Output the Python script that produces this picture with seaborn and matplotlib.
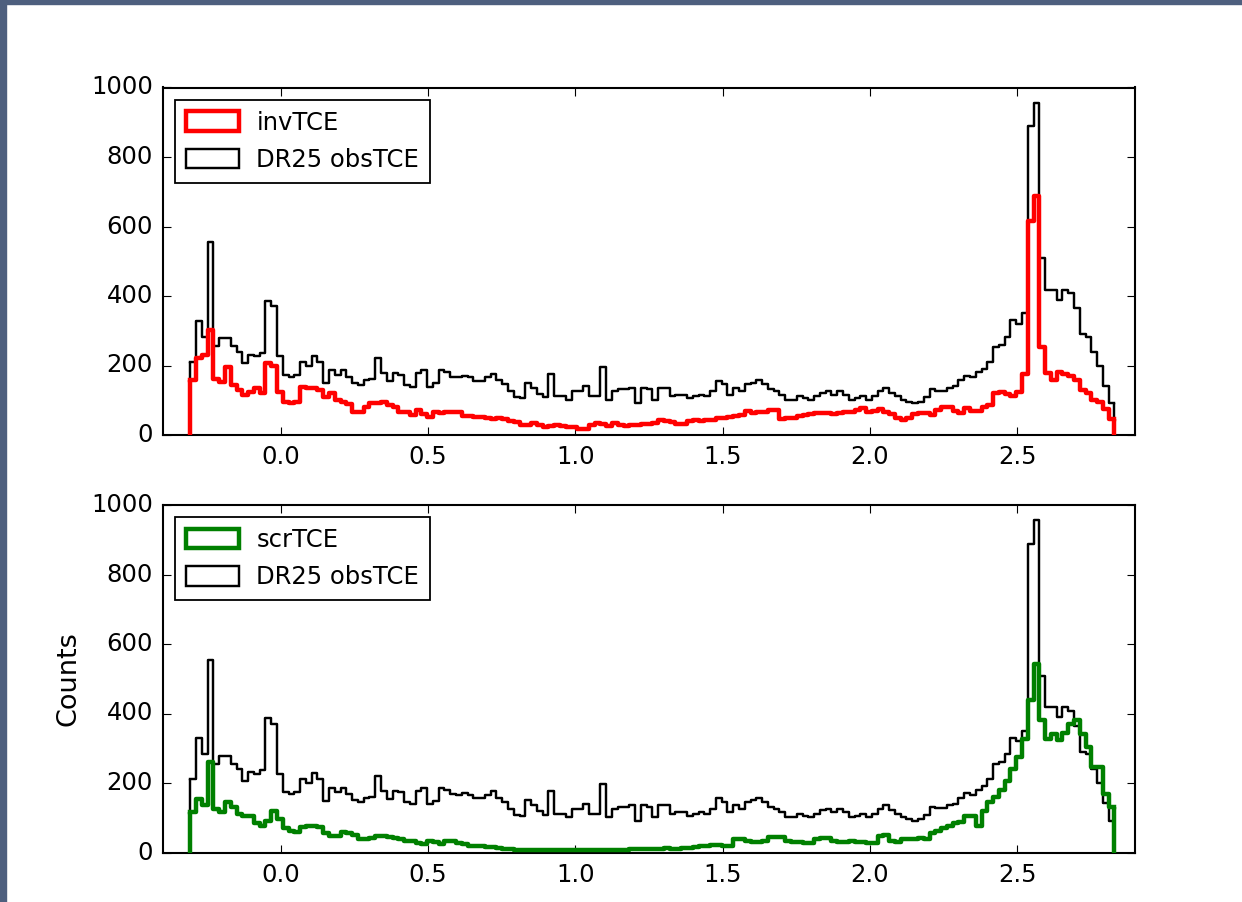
import numpy as np
import pandas as pd
import matplotlib
matplotlib.use("Agg")
import matplotlib.pyplot as plt
import seaborn as sns
from matplotlib.patches import Patch, Rectangle

# ---------------- data ----------------
log_period_min = -0.306
log_period_max = 2.830
n_bins = 160

obs_counts = [
    211, 329, 283, 554, 255, 279, 279, 255, 240, 206,
    231, 226, 236, 386, 370, 226, 173, 168, 173, 211,
    200, 228, 211, 149, 187, 173, 187, 168, 150, 145,
    158, 160, 221, 178, 154, 178, 173, 145, 139, 178,
    187, 139, 149, 187, 180, 168, 166, 171, 166, 156,
    156, 166, 176, 158, 146, 126, 108, 106, 151, 136,
    118, 108, 176, 111, 111, 101, 126, 126, 141, 111,
    111, 196, 101, 126, 131, 131, 136, 91, 136, 131,
    101, 136, 136, 111, 116, 116, 106, 111, 116, 111,
    126, 156, 146, 116, 136, 126, 146, 151, 158, 146,
    131, 126, 116, 101, 101, 111, 106, 101, 111, 121,
    126, 116, 126, 116, 101, 106, 111, 101, 111, 126,
    136, 121, 111, 101, 96, 91, 96, 108, 131, 128,
    128, 136, 141, 158, 171, 166, 181, 191, 211, 254,
    259, 283, 330, 320, 350, 888, 956, 509, 418, 418,
    389, 418, 408, 365, 290, 283, 240, 200, 142, 91,
]

inv_counts = [
    158, 221, 230, 303, 160, 153, 196, 145, 130, 115,
    125, 135, 120, 206, 198, 125, 96, 91, 95, 139,
    134, 134, 130, 110, 120, 101, 96, 90, 67, 67,
    82, 91, 91, 96, 85, 82, 67, 65, 58, 72,
    60, 53, 67, 62, 65, 67, 67, 55, 55, 53,
    52, 48, 46, 48, 46, 40, 38, 29, 30, 34,
    30, 24, 26, 29, 27, 24, 22, 16, 16, 29,
    34, 32, 27, 34, 30, 25, 28, 30, 32, 33,
    35, 43, 40, 38, 32, 33, 40, 43, 40, 42,
    43, 48, 48, 53, 55, 58, 70, 63, 65, 67,
    72, 72, 45, 48, 48, 55, 58, 60, 63, 63,
    62, 61, 62, 65, 65, 72, 77, 67, 70, 74,
    65, 60, 50, 43, 50, 60, 63, 63, 58, 72,
    82, 80, 70, 63, 77, 70, 68, 82, 86, 120,
    125, 118, 111, 125, 175, 615, 687, 254, 177, 158,
    182, 175, 170, 158, 129, 120, 100, 95, 75, 45,
]

scr_counts = [
    116, 155, 136, 260, 125, 116, 145, 130, 111, 106,
    106, 85, 77, 91, 120, 95, 70, 63, 58, 72,
    77, 75, 72, 55, 48, 48, 58, 55, 50, 39,
    39, 43, 48, 48, 46, 43, 40, 34, 34, 26,
    24, 34, 30, 24, 34, 32, 27, 25, 20, 18,
    18, 17, 16, 12, 10, 9, 8, 8, 8, 7,
    8, 7, 6, 7, 8, 7, 7, 6, 7, 6,
    6, 7, 7, 6, 7, 8, 9, 10, 10, 11,
    10, 11, 12, 10, 11, 12, 14, 16, 18, 20,
    23, 22, 18, 18, 38, 40, 32, 30, 31, 33,
    44, 45, 45, 32, 30, 30, 27, 26, 40, 43,
    42, 32, 30, 31, 32, 30, 31, 28, 28, 48,
    50, 32, 30, 38, 40, 40, 42, 40, 55, 61,
    70, 75, 85, 88, 105, 106, 75, 120, 145, 160,
    180, 205, 240, 275, 327, 438, 543, 380, 327, 340,
    323, 345, 370, 380, 341, 303, 245, 245, 168, 130,
]

obs_label = "DR25 obsTCE"
inv_label = "invTCE"
scr_label = "scrTCE"
y_label = "Counts"
x_ticks = [0.0, 0.5, 1.0, 1.5, 2.0, 2.5]
y_ticks = [0, 200, 400, 600, 800, 1000]

edges = np.linspace(log_period_min, log_period_max, n_bins + 1)
centers = 0.5 * (edges[:-1] + edges[1:])

# ---------------- style ----------------
plt.style.use("classic")
plt.rcParams.update({
    "font.family": ["DejaVu Sans"],
    "font.size": 17.5,
    "axes.linewidth": 1.5,
    "xtick.major.size": 5.8,
    "ytick.major.size": 5.8,
    "xtick.major.width": 0.8,
    "ytick.major.width": 0.8,
    "xtick.minor.size": 0,
    "ytick.minor.size": 0,
    "xtick.major.pad": 7.5,
    "ytick.major.pad": 7,
    "xtick.labelsize": 17.5,
    "ytick.labelsize": 17.5,
    "figure.facecolor": "white",
    "savefig.facecolor": "white",
})

W, H = 1242, 902
fig = plt.figure(figsize=(W / 100, H / 100), dpi=100)

left = 162.7 / W
width = (1135.0 - 162.7) / W
ax_h = 347.5 / H
ax_top = fig.add_axes([left, (H - 435.0) / H, width, ax_h])
ax_bot = fig.add_axes([left, (H - 852.5) / H, width, ax_h])

BLACK_LW = 1.75
COLOR_LW = 3.2
bin_list = [float(e) for e in edges]


def draw_hist(ax, counts, color, lw, z):
    df = pd.DataFrame({"logP": centers, "n": counts})
    sns.histplot(data=df, x="logP", weights="n", bins=bin_list, element="step",
                 fill=False, color=color, linewidth=lw, ax=ax, zorder=z)
    # closing verticals at both ends (down to the baseline)
    ax.vlines([edges[0], edges[-1]], 0, [counts[0], counts[-1]],
              colors=color, linewidth=lw, zorder=z)


panels = [
    (ax_top, inv_counts, "#ff0000", inv_label),
    (ax_bot, scr_counts, "#008000", scr_label),
]

for ax, counts, color, lab in panels:
    draw_hist(ax, obs_counts, "black", BLACK_LW, 2)
    draw_hist(ax, counts, color, COLOR_LW, 3)
    ax.set_xlim(-0.4, 2.9)
    ax.set_ylim(0, 1000)
    ax.set_xticks(x_ticks)
    ax.set_yticks(y_ticks)
    ax.set_xlabel("")
    ax.set_ylabel("")
    ax.tick_params(direction="in", top=True, right=True)
    handles = [
        Patch(facecolor="none", edgecolor=color, linewidth=COLOR_LW, label=lab),
        Patch(facecolor="none", edgecolor="black", linewidth=BLACK_LW, label=obs_label),
    ]
    leg = ax.legend(handles=handles, loc="upper left", fontsize=17.5,
                    fancybox=False, frameon=True, handlelength=2.2,
                    handleheight=0.85, handletextpad=0.7, labelspacing=0.55,
                    borderpad=0.45, borderaxespad=0.5)
    leg.get_frame().set_linewidth(1.3)
    leg.get_frame().set_edgecolor("black")

ax_bot.set_ylabel(y_label, fontsize=19.5, labelpad=7)

# screenshot frame strips
frame_col = "#4e5f7e"
fig.add_artist(Rectangle((0, 0), 6 / W, 1, transform=fig.transFigure,
                         color=frame_col, zorder=10))
fig.add_artist(Rectangle((0, 1 - 4 / H), 1, 4 / H, transform=fig.transFigure,
                         color=frame_col, zorder=10))

fig.savefig("out.png", dpi=100)
